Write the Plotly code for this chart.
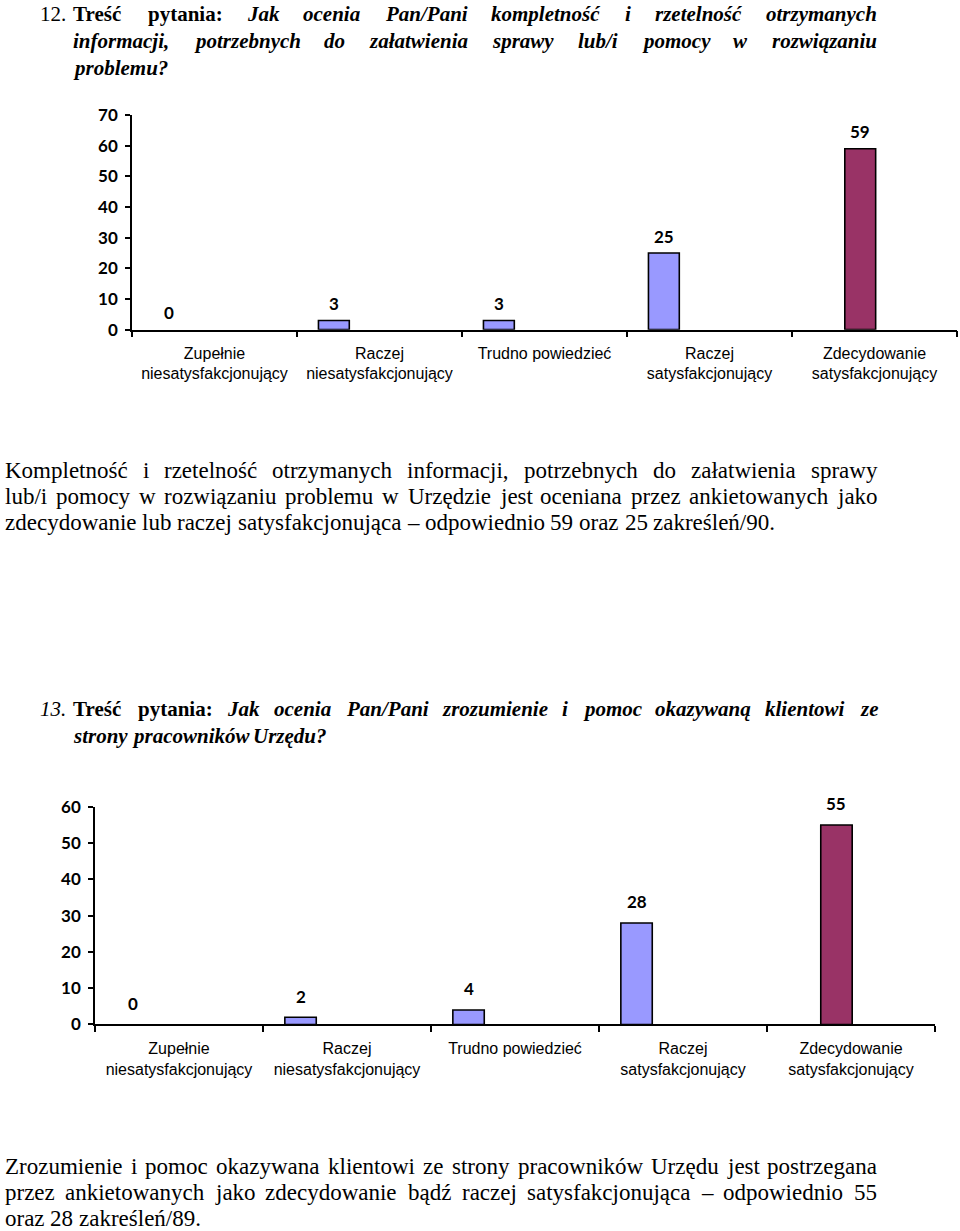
import plotly.graph_objects as go

# ---------------- data ----------------
CATEGORIES = [
    "Zupełnie<br>niesatysfakcjonujący",
    "Raczej<br>niesatysfakcjonujący",
    "Trudno powiedzieć",
    "Raczej<br>satysfakcjonujący",
    "Zdecydowanie<br>satysfakcjonujący",
]
Q12_BLUE = [0, 3, 3, 25, None]
Q12_MAROON = [None, None, None, None, 59]
Q12_YTICKS = [0, 10, 20, 30, 40, 50, 60, 70]

Q13_BLUE = [0, 2, 4, 28, None]
Q13_MAROON = [None, None, None, None, 55]
Q13_YTICKS = [0, 10, 20, 30, 40, 50, 60]

# text blocks: (line words, justified?)
T12_NUM = "12."
T12_LINES = [
    ([("Treść", "b"), ("pytania:", "b")] + [(w, "bi") for w in "Jak ocenia Pan/Pani kompletność i rzetelność otrzymanych".split()], True),
    ([(w, "bi") for w in "informacji, potrzebnych do załatwienia sprawy lub/i pomocy w rozwiązaniu".split()], True),
    ([(w, "bi") for w in "problemu?".split()], False),
]
P12_LINES = [
    ("Kompletność i rzetelność otrzymanych informacji, potrzebnych do załatwienia sprawy", True),
    ("lub/i pomocy w rozwiązaniu problemu w Urzędzie jest oceniana przez ankietowanych jako", True),
    ("zdecydowanie lub raczej satysfakcjonująca – odpowiednio 59 oraz 25 zakreśleń/90.", False),
]
T13_NUM = "13."
T13_LINES = [
    ([("Treść", "b"), ("pytania:", "b")] + [(w, "bi") for w in "Jak ocenia Pan/Pani zrozumienie i pomoc okazywaną klientowi ze".split()], True),
    ([(w, "bi") for w in "strony pracowników Urzędu?".split()], False),
]
P13_LINES = [
    ("Zrozumienie i pomoc okazywana klientowi ze strony pracowników Urzędu jest postrzegana", True),
    ("przez ankietowanych jako zdecydowanie bądź raczej satysfakcjonująca – odpowiednio 55", True),
    ("oraz 28 zakreśleń/89.", False),
]

# ---------------- styles ----------------
W_PX, H_PX = 960, 1231
BLUE = "#9999FF"
MAROON = "#993366"
OFF_BLUE, OFF_MAROON, BAR_W = -0.37, -0.18, 0.187
NUM_FONT = dict(family="Lato", size=17, color="black", weight="bold")
TICK_FONT_Y = dict(family="Lato", size=17, color="black", weight="bold")
TICK_FONT_X = dict(family="Liberation Sans", size=16, color="black")
SERIF = "Liberation Serif"

# vertical calibration of the page (rendered = Y0 + YS * layout)
Y0, YS = 9.8, 0.9846


def PY(y_px):
    """paper fraction for a target pixel row on the page"""
    return 1 - ((y_px - Y0) / YS) / H_PX


# Times metrics (per 1000 em) for justification
_base = {"ą": "a", "ć": "c", "ę": "e", "ł": "l", "ń": "n", "ó": "o", "ś": "s", "ź": "z", "ż": "z",
         "Ł": "L", "Ś": "S", "Ż": "Z", "Ź": "Z"}
_R = dict(zip("abcdefghijklmnopqrstuvwxyz",
              [444, 500, 444, 500, 444, 333, 500, 500, 278, 278, 500, 278, 778, 500, 500, 500, 500, 333, 389, 278, 500, 500, 722, 500, 500, 444]))
_R.update(dict(zip("ABCDEFGHIJKLMNOPQRSTUVWXYZ",
                   [722, 667, 667, 722, 611, 556, 722, 722, 333, 389, 722, 611, 889, 722, 722, 556, 722, 667, 556, 611, 722, 722, 944, 722, 722, 611])))
_R.update({" ": 250, ".": 250, ",": 250, "/": 278, ":": 278, "?": 444, "–": 500, "-": 333})
_B = dict(zip("abcdefghijklmnopqrstuvwxyz",
              [500, 556, 444, 556, 444, 333, 500, 556, 278, 333, 556, 278, 833, 556, 500, 556, 556, 444, 389, 333, 556, 500, 722, 500, 500, 444]))
_B.update({"T": 667, ":": 333, " ": 250})
_BI = dict(zip("abcdefghijklmnopqrstuvwxyz",
               [500, 500, 444, 500, 444, 333, 500, 556, 278, 278, 500, 278, 778, 556, 500, 500, 500, 389, 389, 278, 556, 444, 667, 500, 444, 389]))
_BI.update({"J": 500, "P": 611, "U": 722, "T": 611, ":": 333, "/": 278, "?": 500, ",": 250, ".": 250, " ": 250})
METRICS = {"r": _R, "i": _R, "b": _B, "bi": _BI}
VARIANT = {"r": ("normal", "normal"), "i": ("normal", "italic"), "b": ("bold", "normal"), "bi": ("bold", "italic")}


def text_w(s, var, size):
    m = METRICS[var]
    return sum(m.get(_base.get(c, c), 500) for c in s) * size / 1000.0


fig = go.Figure()


def add_word(text, var, x_px, y_px, size):
    weight, style = VARIANT[var]
    fig.add_annotation(x=x_px / W_PX, y=PY(y_px), xref="paper", yref="paper",
                       text=text, showarrow=False, xanchor="left", yanchor="middle",
                       borderpad=0, borderwidth=0,
                       font=dict(family=SERIF, size=size, color="black", weight=weight, style=style))


def add_line(words, x0, x1, y, size, justify):
    widths = [text_w(w, v, size) for w, v in words]
    if justify and len(words) > 1:
        gap = max((x1 - x0 - sum(widths)) / (len(words) - 1), 0.2 * size)
    else:
        gap = 0.25 * size
    x = x0
    for (w, v), wd in zip(words, widths):
        add_word(w, v, x, y, size)
        x += wd + gap


# ---------------- bars ----------------
def add_chart(blue, maroon, xa, ya, shift):
    for vals, col, off in ((blue, BLUE, OFF_BLUE), (maroon, MAROON, OFF_MAROON)):
        lw = [0 if (v is None or v == 0) else 1.6 for v in vals]
        fig.add_trace(go.Bar(x=CATEGORIES, y=vals, xaxis=xa, yaxis=ya, offset=off, width=BAR_W,
                             marker=dict(color=col, line=dict(color="black", width=lw)),
                             hoverinfo="skip", showlegend=False))
        for i, v in enumerate(vals):
            if v is not None:
                fig.add_annotation(x=i + off + BAR_W / 2, y=v, xref=xa, yref=ya, text=str(v),
                                   showarrow=False, yanchor="middle", yshift=shift, font=NUM_FONT)


add_chart(Q12_BLUE, Q12_MAROON, "x", "y", 17)
add_chart(Q13_BLUE, Q13_MAROON, "x2", "y2", 21)

xcommon = dict(type="category", range=[-0.5, 4.5], showline=True, linecolor="black", linewidth=1.6,
               ticks="outside", tickson="boundaries", ticklen=6, tickwidth=1.6, tickcolor="black",
               tickfont=TICK_FONT_X, showgrid=False, zeroline=False, fixedrange=True)
ycommon = dict(showline=True, linecolor="black", linewidth=1.6, ticks="outside", ticklen=5,
               tickwidth=1.6, tickcolor="black", tickfont=TICK_FONT_Y, showgrid=False, zeroline=False,
               ticklabelstandoff=4, fixedrange=True)

fig.update_layout(
    width=W_PX, height=H_PX, margin=dict(l=0, r=0, t=0, b=0),
    paper_bgcolor="white", plot_bgcolor="white", showlegend=False, barmode="overlay",
    xaxis=dict(xcommon, domain=[132 / W_PX, 957 / W_PX], anchor="y", ticklabelstandoff=8),
    yaxis=dict(ycommon, domain=[PY(329), PY(114)], anchor="x",
               range=[0, 70], tickvals=Q12_YTICKS),
    xaxis2=dict(xcommon, domain=[95 / W_PX, 935 / W_PX], anchor="y2", ticklabelstandoff=9),
    yaxis2=dict(ycommon, domain=[PY(1025), PY(807)], anchor="x2",
                range=[0, 60], tickvals=Q13_YTICKS),
)

# ---------------- text ----------------
TSIZE = 21
BSIZE = 23
add_word(T12_NUM, "r", 40, 13, TSIZE)
for k, (words, just) in enumerate(T12_LINES):
    add_line(words, 73, 877, 13 + 27 * k, TSIZE, just)

for k, (line, just) in enumerate(P12_LINES):
    add_line([(w, "r") for w in line.split()], 5, 877, 470 + 26 * k, BSIZE, just)

add_word(T13_NUM, "i", 40, 709, TSIZE)
for k, (words, just) in enumerate(T13_LINES):
    add_line(words, 73, 877, 709 + 27 * k, TSIZE, just)

for k, (line, just) in enumerate(P13_LINES):
    add_line([(w, "r") for w in line.split()], 5, 877, 1167 + 26 * k, BSIZE, just)

fig.write_html("out.html", config={"displayModeBar": False},
               post_script="document.body.style.margin='0';document.body.style.overflow='hidden';")
